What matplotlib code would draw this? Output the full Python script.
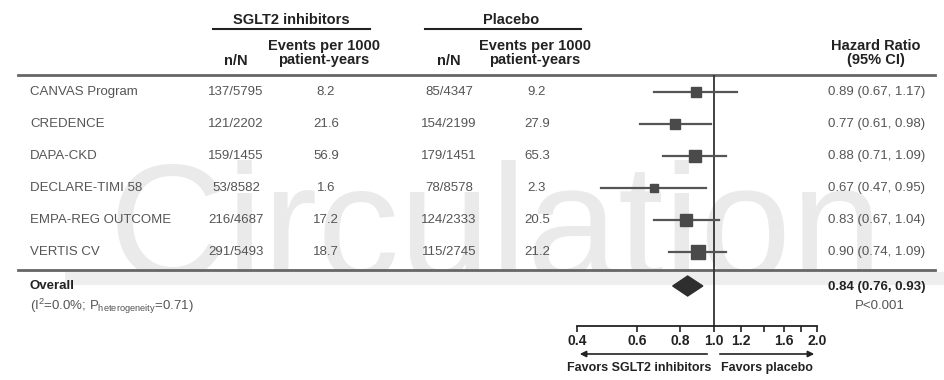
import numpy as np
import matplotlib
matplotlib.use("Agg")
import matplotlib.pyplot as plt
from matplotlib.patches import Polygon, Rectangle

plt.rcParams['font.family'] = ['Liberation Sans', 'DejaVu Sans']
plt.rcParams['mathtext.default'] = 'regular'

# Donnees
trials = ["CANVAS Program", "CREDENCE", "DAPA-CKD", "DECLARE-TIMI 58",
          "EMPA-REG OUTCOME", "VERTIS CV"]
sglt2_nN = ["137/5795", "121/2202", "159/1455", "53/8582", "216/4687", "291/5493"]
sglt2_events = [137, 121, 159, 53, 216, 291]
sglt2_rate = ["8.2", "21.6", "56.9", "1.6", "17.2", "18.7"]
placebo_nN = ["85/4347", "154/2199", "179/1451", "78/8578", "124/2333", "115/2745"]
placebo_events = [85, 154, 179, 78, 124, 115]
placebo_rate = ["9.2", "27.9", "65.3", "2.3", "20.5", "21.2"]
hr = [0.89, 0.77, 0.88, 0.67, 0.83, 0.90]
ci_low = [0.67, 0.61, 0.71, 0.47, 0.67, 0.74]
ci_high = [1.17, 0.98, 1.09, 0.95, 1.04, 1.09]
overall_hr = 0.84
overall_low = 0.76
overall_high = 0.93
tick_vals = [0.4, 0.6, 0.8, 1.0, 1.2, 1.6, 2.0]
minor_vals = [1.4, 1.8]

W, H = 945, 380
fig = plt.figure(figsize=(W / 100, H / 100), dpi=100)

# Axe de fond en pixels pour le tableau
bg = fig.add_axes([0, 0, 1, 1])
bg.set_xlim(0, W)
bg.set_ylim(H, 0)
bg.axis('off')

# filigrane
bg.text(496, 278, "Circulation", fontsize=118, color='#eaeaea', ha='center',
        va='baseline', zorder=0)
bg.add_patch(Rectangle((65, 272), 880, 13, color='#eeeeee', zorder=0, lw=0))

dark = '#222222'
gray = '#555555'
row_y = [92 + 32 * i for i in range(len(trials))]

# en-tetes
hdr = dict(fontsize=10.5, fontweight='bold', color=dark, ha='center')
bg.text(291, 20, "SGLT2 inhibitors", va='center', **hdr)
bg.plot([213, 370], [29, 29], color=dark, lw=1.5)
bg.text(511, 20, "Placebo", va='center', **hdr)
bg.plot([425, 581], [29, 29], color=dark, lw=1.5)
bg.text(236, 61, "n/N", va='center', **hdr)
bg.text(324, 53, "Events per 1000\npatient-years", va='center', linespacing=1.05, **hdr)
bg.text(449, 61, "n/N", va='center', **hdr)
bg.text(535, 53, "Events per 1000\npatient-years", va='center', linespacing=1.05, **hdr)
bg.text(876, 53, "Hazard Ratio\n(95% CI)", va='center', linespacing=1.05, **hdr)

bg.plot([18, 935], [75, 75], color='#666666', lw=2)
bg.plot([18, 935], [270, 270], color='#666666', lw=2)

row = dict(fontsize=9.5, color=gray, va='center')
for i, y in enumerate(row_y):
    bg.text(30, y, trials[i], ha='left', **row)
    bg.text(236, y, sglt2_nN[i], ha='center', **row)
    bg.text(326, y, sglt2_rate[i], ha='center', **row)
    bg.text(449, y, placebo_nN[i], ha='center', **row)
    bg.text(537, y, placebo_rate[i], ha='center', **row)
    bg.text(925, y, f"{hr[i]:.2f} ({ci_low[i]:.2f}, {ci_high[i]:.2f})", ha='right', **row)

bg.text(30, 286, "Overall", ha='left', va='center', fontsize=9.5, fontweight='bold', color=dark)
bg.text(30, 306, "(I$^2$=0.0%; P$_{heterogeneity}$=0.71)", ha='left', va='center',
        fontsize=9.5, color=gray)
bg.text(925, 287, f"{overall_hr:.2f} ({overall_low:.2f}, {overall_high:.2f})",
        ha='right', va='center', fontsize=9.5, fontweight='bold', color=dark)
bg.text(880, 306, "P<0.001", ha='center', va='center', fontsize=9.5, color=gray)

# Axe du forest plot (echelle log)
x0, x1 = 577, 817
y_top, y_bot = 75, 326
ax = fig.add_axes([x0 / W, 1 - y_bot / H, (x1 - x0) / W, (y_bot - y_top) / H])
ax.patch.set_alpha(0)
ax.set_xscale('log')
ax.set_xlim(tick_vals[0], tick_vals[-1])
ax.set_ylim(y_bot, y_top)
for s in ['top', 'right', 'left']:
    ax.spines[s].set_visible(False)
ax.spines['bottom'].set_color(dark)
ax.spines['bottom'].set_linewidth(1.3)
ax.set_yticks([])
ax.set_xticks(tick_vals)
ax.set_xticklabels([f"{v:.1f}" for v in tick_vals])
ax.set_xticks(minor_vals, minor=True)
ax.xaxis.set_minor_formatter(plt.NullFormatter())
ax.tick_params(axis='x', which='both', length=4, width=1.2, color=dark,
               labelsize=10, pad=2, labelcolor=dark)
for lab in ax.get_xticklabels():
    lab.set_fontweight('bold')

ax.axvline(1.0, color='#333333', lw=1.3, zorder=1)

total_events = np.array(sglt2_events) + np.array(placebo_events)
sizes = np.sqrt(total_events) * 0.47
for i, y in enumerate(row_y):
    ax.plot([ci_low[i], ci_high[i]], [y, y], color='#555555', lw=1.6, zorder=2)
    ax.plot(hr[i], y, marker='s', ms=sizes[i], color='#4a4a4a', zorder=3, ls='none')

dy = 10
diamond = Polygon([[overall_low, 286], [overall_hr, 286 - dy], [overall_high, 286],
                   [overall_hr, 286 + dy]], closed=True, color='#2e2e2e', zorder=3)
ax.add_patch(diamond)

# fleches et legendes
arr = dict(arrowstyle='-|>', color=dark, lw=1.2, mutation_scale=9)
bg.annotate("", xy=(577, 354), xytext=(710, 354), arrowprops=arr)
bg.annotate("", xy=(817, 354), xytext=(717, 354), arrowprops=arr)
bg.text(639, 368, "Favors SGLT2 inhibitors", ha='center', va='center',
        fontsize=9, fontweight='bold', color=dark)
bg.text(767, 368, "Favors placebo", ha='center', va='center',
        fontsize=9, fontweight='bold', color=dark)

fig.savefig("out.png", dpi=100)
